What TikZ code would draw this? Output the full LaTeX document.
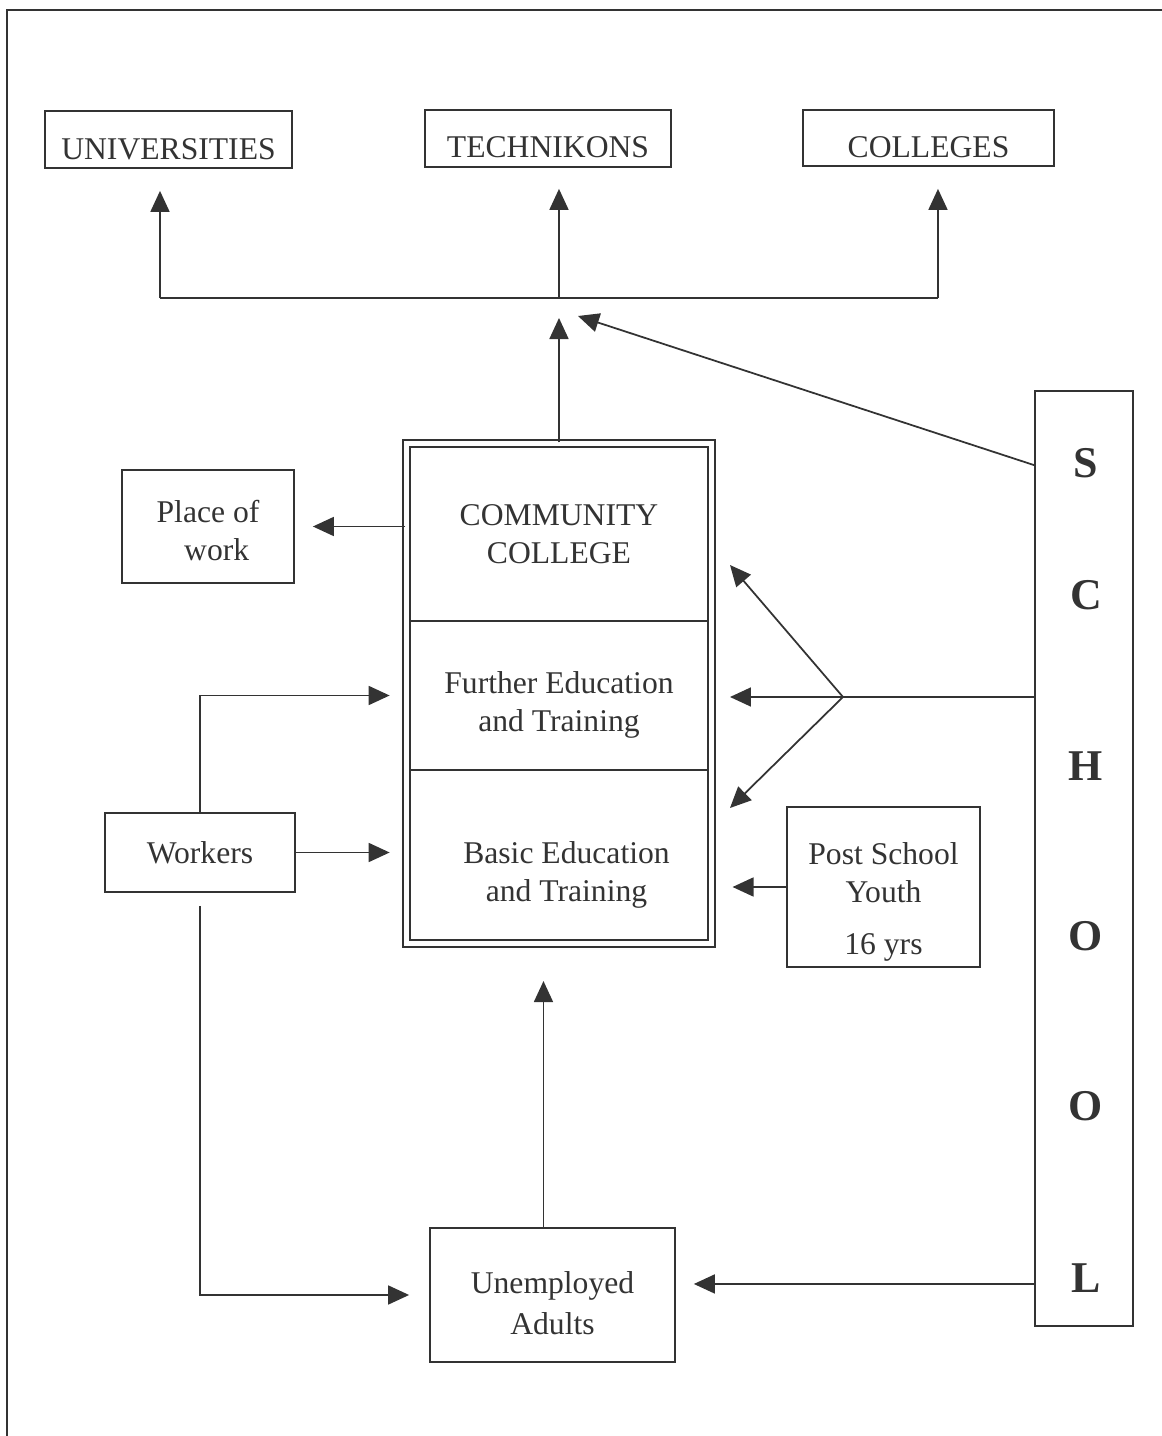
\documentclass[tikz,border=0pt]{standalone}
\usepackage{fontspec}
\setmainfont{Liberation Serif}
\usetikzlibrary{arrows.meta}
\definecolor{ink}{HTML}{333333}
\newcommand{\topgap}[1]{\rule{0pt}{#1}}
\begin{document}
\begin{tikzpicture}[scale=0.2]
                  \tikzstyle{every node}+=[inner sep=0pt, text=ink, font=\fontsize{18}{21.6}\selectfont]
                  \tikzstyle{box}=[draw=ink, line width=1pt, align=center]
                  \tikzstyle{part}=[align=center, minimum width=5.96cm]
                  \tikzstyle{line}=[draw=ink, line width=1pt]
                  \tikzstyle{arr}=[line, -{Triangle[length=0.42cm,width=0.38cm]}]
                  \tikzstyle{letter}=[font=\fontsize{25}{30}\selectfont\bfseries]
                  \useasboundingbox (0,0) rectangle (116.2,-143.6);
                  \draw [ink, line width=1.1pt] (0.7,-143.6) -- (0.7,-1.0) -- (116.2,-1.0);
                  \node [box, minimum width=4.94cm, minimum height=1.14cm] (univ) at (16.85,-13.95) {\topgap{0.82cm}UNIVERSITIES};
                  \node [box, minimum width=4.92cm, minimum height=1.14cm] (tech) at (54.8,-13.85) {\topgap{0.78cm}TECHNIKONS};
                  \node [box, minimum width=5.02cm, minimum height=1.12cm] (coll) at (92.85,-13.8) {\topgap{0.8cm}COLLEGES};
                  \node [draw=ink, line width=1.2pt, double=white, double distance=0.1cm, minimum width=6.1cm, minimum height=10cm] (cc) at (55.9,-69.35) {};
                  \node [part, minimum height=3.48cm] (ccTop) at (55.9,-53.4) {COMMUNITY\\COLLEGE};
                  \node [part, minimum height=2.98cm] (ccFet) at (55.9,-69.55) {\topgap{0.8cm}Further Education\\and Training};
                  \node [part, minimum height=3.4cm] (ccBet) at (55.9,-85.5) {\topgap{1.24cm}\hspace*{0.3cm}Basic Education\\\hspace*{0.3cm}and Training};
                  \draw [line] (ccTop.south west) -- (ccTop.south east);
                  \draw [line] (ccFet.south west) -- (ccFet.south east);
                  \node [box, minimum width=3.44cm, minimum height=2.26cm] (work) at (20.8,-52.65) {\topgap{0.6cm}Place of\\\hspace*{0.35cm}work};
                  \node [box, minimum width=3.8cm, minimum height=1.58cm] (workers) at (20.0,-85.25) {Workers};
                  \node [box, minimum width=3.86cm, minimum height=3.2cm] (youth) at (88.35,-88.7) {\topgap{1.02cm}Post School\\Youth\\[8pt]16 yrs};
                  \node [box, minimum width=4.9cm, minimum height=2.68cm] (unemp) at (55.25,-129.5) {\topgap{0.76cm}Unemployed\\[2pt]Adults};
                  \node [box, minimum width=1.96cm, minimum height=18.7cm] (school) at (108.4,-85.85) {};
                  \foreach \l/\y [count=\i] in {S/46.3, C/59.5, H/76.6, O/93.6, O/110.6, L/127.8}
                      \node [letter] (sl\i) at (108.6,-\y) {\l};
                  \coordinate (busL) at (16,-29.8);
                  \coordinate (busM) at (55.9,-29.8);
                  \coordinate (busR) at (93.8,-29.8);
                  \coordinate (hub) at (55.9,-31.8);
                  \coordinate (hubR) at (57.8,-31.6);
                  \coordinate (fork) at (84.3,-69.7);
                  \coordinate (inA) at (73,-56.5);
                  \coordinate (inB) at (73,-69.7);
                  \coordinate (inC) at (73,-80.8);
                  \coordinate (uN) at ([xshift=-0.9cm]unemp.north);
                  \coordinate (uE) at ([yshift=1.1cm]unemp.east);
                  \draw [line] (busL) -- (busR);
                  \draw [arr, shorten >=0.44cm] (busL) -- (busL |- univ.south);
                  \draw [arr, shorten >=0.42cm] (busM) -- (busM |- tech.south);
                  \draw [arr, shorten >=0.44cm] (busR) -- (busR |- coll.south);
                  \draw [arr] (cc.north) -- (hub);
                  \draw [arr] ([yshift=-7.5cm]school.north west) -- (hubR);
                  \draw [arr, shorten >=0.36cm] (work.east -| cc.west) -- (work.east);
                  \draw [line] (school.west |- fork) -- (fork);
                  \draw [arr] (fork) -- (inA);
                  \draw [arr] (fork) -- (inB);
                  \draw [arr] (fork) -- (inC);
                  \draw [arr, shorten >=0.4cm] (youth.west) -- (youth.west -| cc.east);
                  \draw [arr, shorten >=0.4cm] (workers.north) |- (ccFet.west);
                  \draw [arr, shorten >=0.4cm] (workers.east) -- (workers.east -| ccBet.west);
                  \draw [arr, shorten <=0.26cm, shorten >=0.4cm] (workers.south) |- (unemp.west);
                  \draw [arr, shorten >=0.73cm] (uN) -- (uN |- cc.south);
                  \draw [arr, shorten >=0.36cm] (uE -| school.west) -- (uE);
              \end{tikzpicture}
\end{document}
